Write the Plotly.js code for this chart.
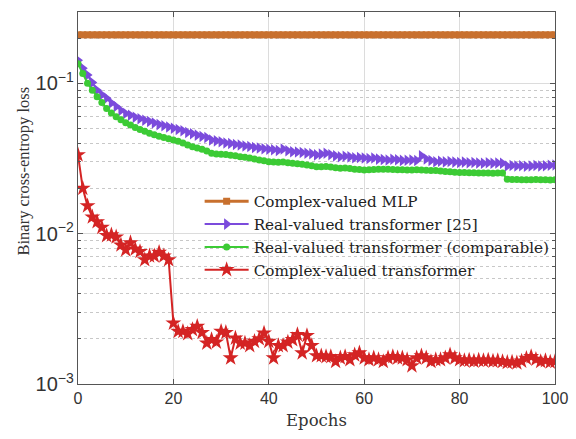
<!DOCTYPE html>
<html>
<head>
<meta charset="utf-8">
<script src="https://cdn.plot.ly/plotly-3.0.1.min.js"></script>
<style>html,body{margin:0;padding:0;background:#fff;}#chart{width:576px;height:439px;}</style>
</head>
<body>
<div id="chart"></div>
<script>
const epochs = [0,1,2,3,4,5,6,7,8,9,10,11,12,13,14,15,16,17,18,19,20,21,22,23,24,25,26,27,28,29,30,31,32,33,34,35,36,37,38,39,40,41,42,43,44,45,46,47,48,49,50,51,52,53,54,55,56,57,58,59,60,61,62,63,64,65,66,67,68,69,70,71,72,73,74,75,76,77,78,79,80,81,82,83,84,85,86,87,88,89,90,91,92,93,94,95,96,97,98,99,100];

const mlpLoss = [0.21,0.21,0.21,0.21,0.21,0.21,0.21,0.21,0.21,0.21,0.21,0.21,0.21,0.21,0.21,0.21,0.21,0.21,0.21,0.21,0.21,0.21,0.21,0.21,0.21,0.21,0.21,0.21,0.21,0.21,0.21,0.21,0.21,0.21,0.21,0.21,0.21,0.21,0.21,0.21,0.21,0.21,0.21,0.21,0.21,0.21,0.21,0.21,0.21,0.21,0.21,0.21,0.21,0.21,0.21,0.21,0.21,0.21,0.21,0.21,0.21,0.21,0.21,0.21,0.21,0.21,0.21,0.21,0.21,0.21,0.21,0.21,0.21,0.21,0.21,0.21,0.21,0.21,0.21,0.21,0.21,0.21,0.21,0.21,0.21,0.21,0.21,0.21,0.21,0.21,0.21,0.21,0.21,0.21,0.21,0.21,0.21,0.21,0.21,0.21,0.21];

const realRefLoss = [0.142,0.126,0.1135,0.101,0.090,0.084,0.0795,0.074,0.070,0.066,0.063,0.0612,0.0595,0.0580,0.0568,0.0556,0.0544,0.0531,0.0522,0.0512,0.0502,0.0492,0.0484,0.0470,0.0462,0.0452,0.0442,0.0436,0.0420,0.0414,0.0408,0.0401,0.0398,0.0392,0.0388,0.0383,0.0380,0.0374,0.0371,0.0367,0.0364,0.0361,0.0357,0.0366,0.0356,0.0350,0.0349,0.0346,0.0343,0.0340,0.0334,0.0338,0.0342,0.0335,0.0329,0.0325,0.0327,0.0324,0.0320,0.0321,0.0318,0.0316,0.0318,0.0313,0.0311,0.0309,0.0312,0.0310,0.0307,0.0308,0.0309,0.0306,0.0329,0.0314,0.0306,0.0301,0.0303,0.0300,0.0302,0.0299,0.0297,0.0299,0.0296,0.0297,0.0295,0.0294,0.0296,0.0294,0.0295,0.0294,0.0282,0.0284,0.0282,0.0283,0.0281,0.0282,0.0284,0.0282,0.0283,0.0285,0.0286];

const realCompLoss = [0.135,0.116,0.100,0.090,0.0815,0.0745,0.068,0.0635,0.0600,0.0572,0.0547,0.0527,0.0508,0.0493,0.0479,0.0466,0.0455,0.0445,0.0436,0.0428,0.0420,0.0412,0.0400,0.0389,0.0379,0.0371,0.0364,0.0355,0.0343,0.0339,0.0337,0.0336,0.0332,0.0329,0.0325,0.0322,0.0318,0.0313,0.0309,0.0305,0.0301,0.0300,0.0298,0.0299,0.0296,0.0294,0.0292,0.0289,0.0286,0.0283,0.0279,0.0279,0.0280,0.0277,0.0274,0.0272,0.0273,0.0271,0.0268,0.0267,0.0265,0.0266,0.0267,0.0268,0.0268,0.0268,0.0267,0.0266,0.0266,0.0265,0.0265,0.0266,0.0265,0.0264,0.0263,0.0263,0.0261,0.0259,0.0258,0.0256,0.0255,0.0255,0.0254,0.0254,0.0253,0.0253,0.0253,0.0252,0.0253,0.0253,0.0230,0.0229,0.0229,0.0228,0.0228,0.0228,0.0229,0.0228,0.0228,0.0227,0.0228];

const complexTfLoss = [0.0334,0.0200,0.0153,0.0129,0.0120,0.0110,0.0097,0.0098,0.0095,0.0084,0.0078,0.0087,0.0079,0.0076,0.0067,0.0071,0.0071,0.0075,0.0071,0.0067,0.00254,0.00224,0.00224,0.00216,0.0023,0.00242,0.0022,0.00187,0.00197,0.0019,0.00224,0.0022,0.00149,0.00202,0.00187,0.00187,0.0018,0.00192,0.0020,0.00218,0.00192,0.00149,0.0018,0.0018,0.0019,0.00197,0.00213,0.00161,0.0021,0.0018,0.00154,0.00154,0.00152,0.00152,0.00141,0.00149,0.00152,0.00145,0.00156,0.00161,0.00149,0.00145,0.00149,0.00145,0.00141,0.00149,0.00152,0.00149,0.00149,0.00145,0.00132,0.00149,0.00154,0.00149,0.00141,0.00145,0.00145,0.00149,0.00156,0.00149,0.00145,0.00143,0.00144,0.00142,0.00144,0.00143,0.00144,0.00142,0.00143,0.00141,0.00139,0.00140,0.00138,0.00142,0.00148,0.00152,0.00146,0.00141,0.00143,0.00140,0.00141];

const seriesNames = ['Complex-valued MLP','Real-valued transformer [25]','Real-valued transformer (comparable)','Complex-valued transformer'];
const xTickVals = [0,20,40,60,80,100];
const xTitle = 'Epochs';
const yTitle = 'Binary cross-entropy loss';

const serif = '"Liberation Serif", "DejaVu Serif", serif';
const wideSerif = '"DejaVu Serif", "Liberation Serif", serif';
const sans = '"Liberation Sans", Arial, sans-serif';

const traces = [
  {x: epochs, y: mlpLoss, name: seriesNames[0], mode: 'lines+markers',
   line: {color: '#C8702E', width: 3}, marker: {symbol: 'square', size: 7, color: '#C8702E'}},
  {x: epochs, y: realRefLoss, name: seriesNames[1], mode: 'lines+markers',
   line: {color: '#7B4BDC', width: 2}, marker: {symbol: 'triangle-right', size: 10, color: '#7B4BDC'}},
  {x: epochs, y: realCompLoss, name: seriesNames[2], mode: 'lines+markers',
   line: {color: '#3CCB35', width: 2}, marker: {symbol: 'circle', size: 7, color: '#3CCB35'}},
  {x: epochs, y: complexTfLoss, name: seriesNames[3], mode: 'lines+markers',
   line: {color: '#D42424', width: 2}, marker: {symbol: 'star', size: 12, color: '#D42424'}}
];

const layout = {
  width: 576, height: 439,
  margin: {l: 78, r: 21, t: 12, b: 55, pad: 0},
  paper_bgcolor: '#fff', plot_bgcolor: '#fff',
  showlegend: true,
  legend: {x: 0.255, y: 0.535, xanchor: 'left', yanchor: 'top', bgcolor: 'rgba(255,255,255,0)',
           borderwidth: 0, itemwidth: 44, font: {family: wideSerif, size: 15.2, color: '#222'}, tracegroupgap: 0},
  xaxis: {
    range: [0, 100], tickvals: xTickVals, ticks: 'inside', ticklen: 5, tickcolor: '#555',
    showline: true, linecolor: '#555', linewidth: 1, mirror: 'ticks',
    showgrid: true, gridcolor: '#dcdcdc', gridwidth: 1, zeroline: false,
    tickfont: {family: sans, size: 16, color: '#333'},
    title: {text: xTitle, font: {family: wideSerif, size: 16.5, color: '#333'}, standoff: 8}
  },
  yaxis: {
    type: 'log', range: [-3, -0.526], dtick: 1, exponentformat: 'power',
    ticks: 'inside', ticklen: 5, tickcolor: '#555',
    showline: true, linecolor: '#555', linewidth: 1, mirror: 'ticks',
    showgrid: true, gridcolor: '#dcdcdc', gridwidth: 1, zeroline: false,
    minor: {dtick: 'D1', showgrid: true, gridcolor: '#c8c8c8', griddash: 'dot', ticks: 'inside', ticklen: 3, tickcolor: '#555'},
    tickfont: {family: sans, size: 16, color: '#333'}
  },
  annotations: [
    {text: yTitle, xref: 'paper', yref: 'paper', x: -0.114, y: 0.573, xanchor: 'center', yanchor: 'middle',
     textangle: -90, showarrow: false, font: {family: serif, size: 16.5, color: '#333'}}
  ]
};

Plotly.newPlot('chart', traces, layout, {displayModeBar: false, staticPlot: true});
</script>
</body>
</html>
